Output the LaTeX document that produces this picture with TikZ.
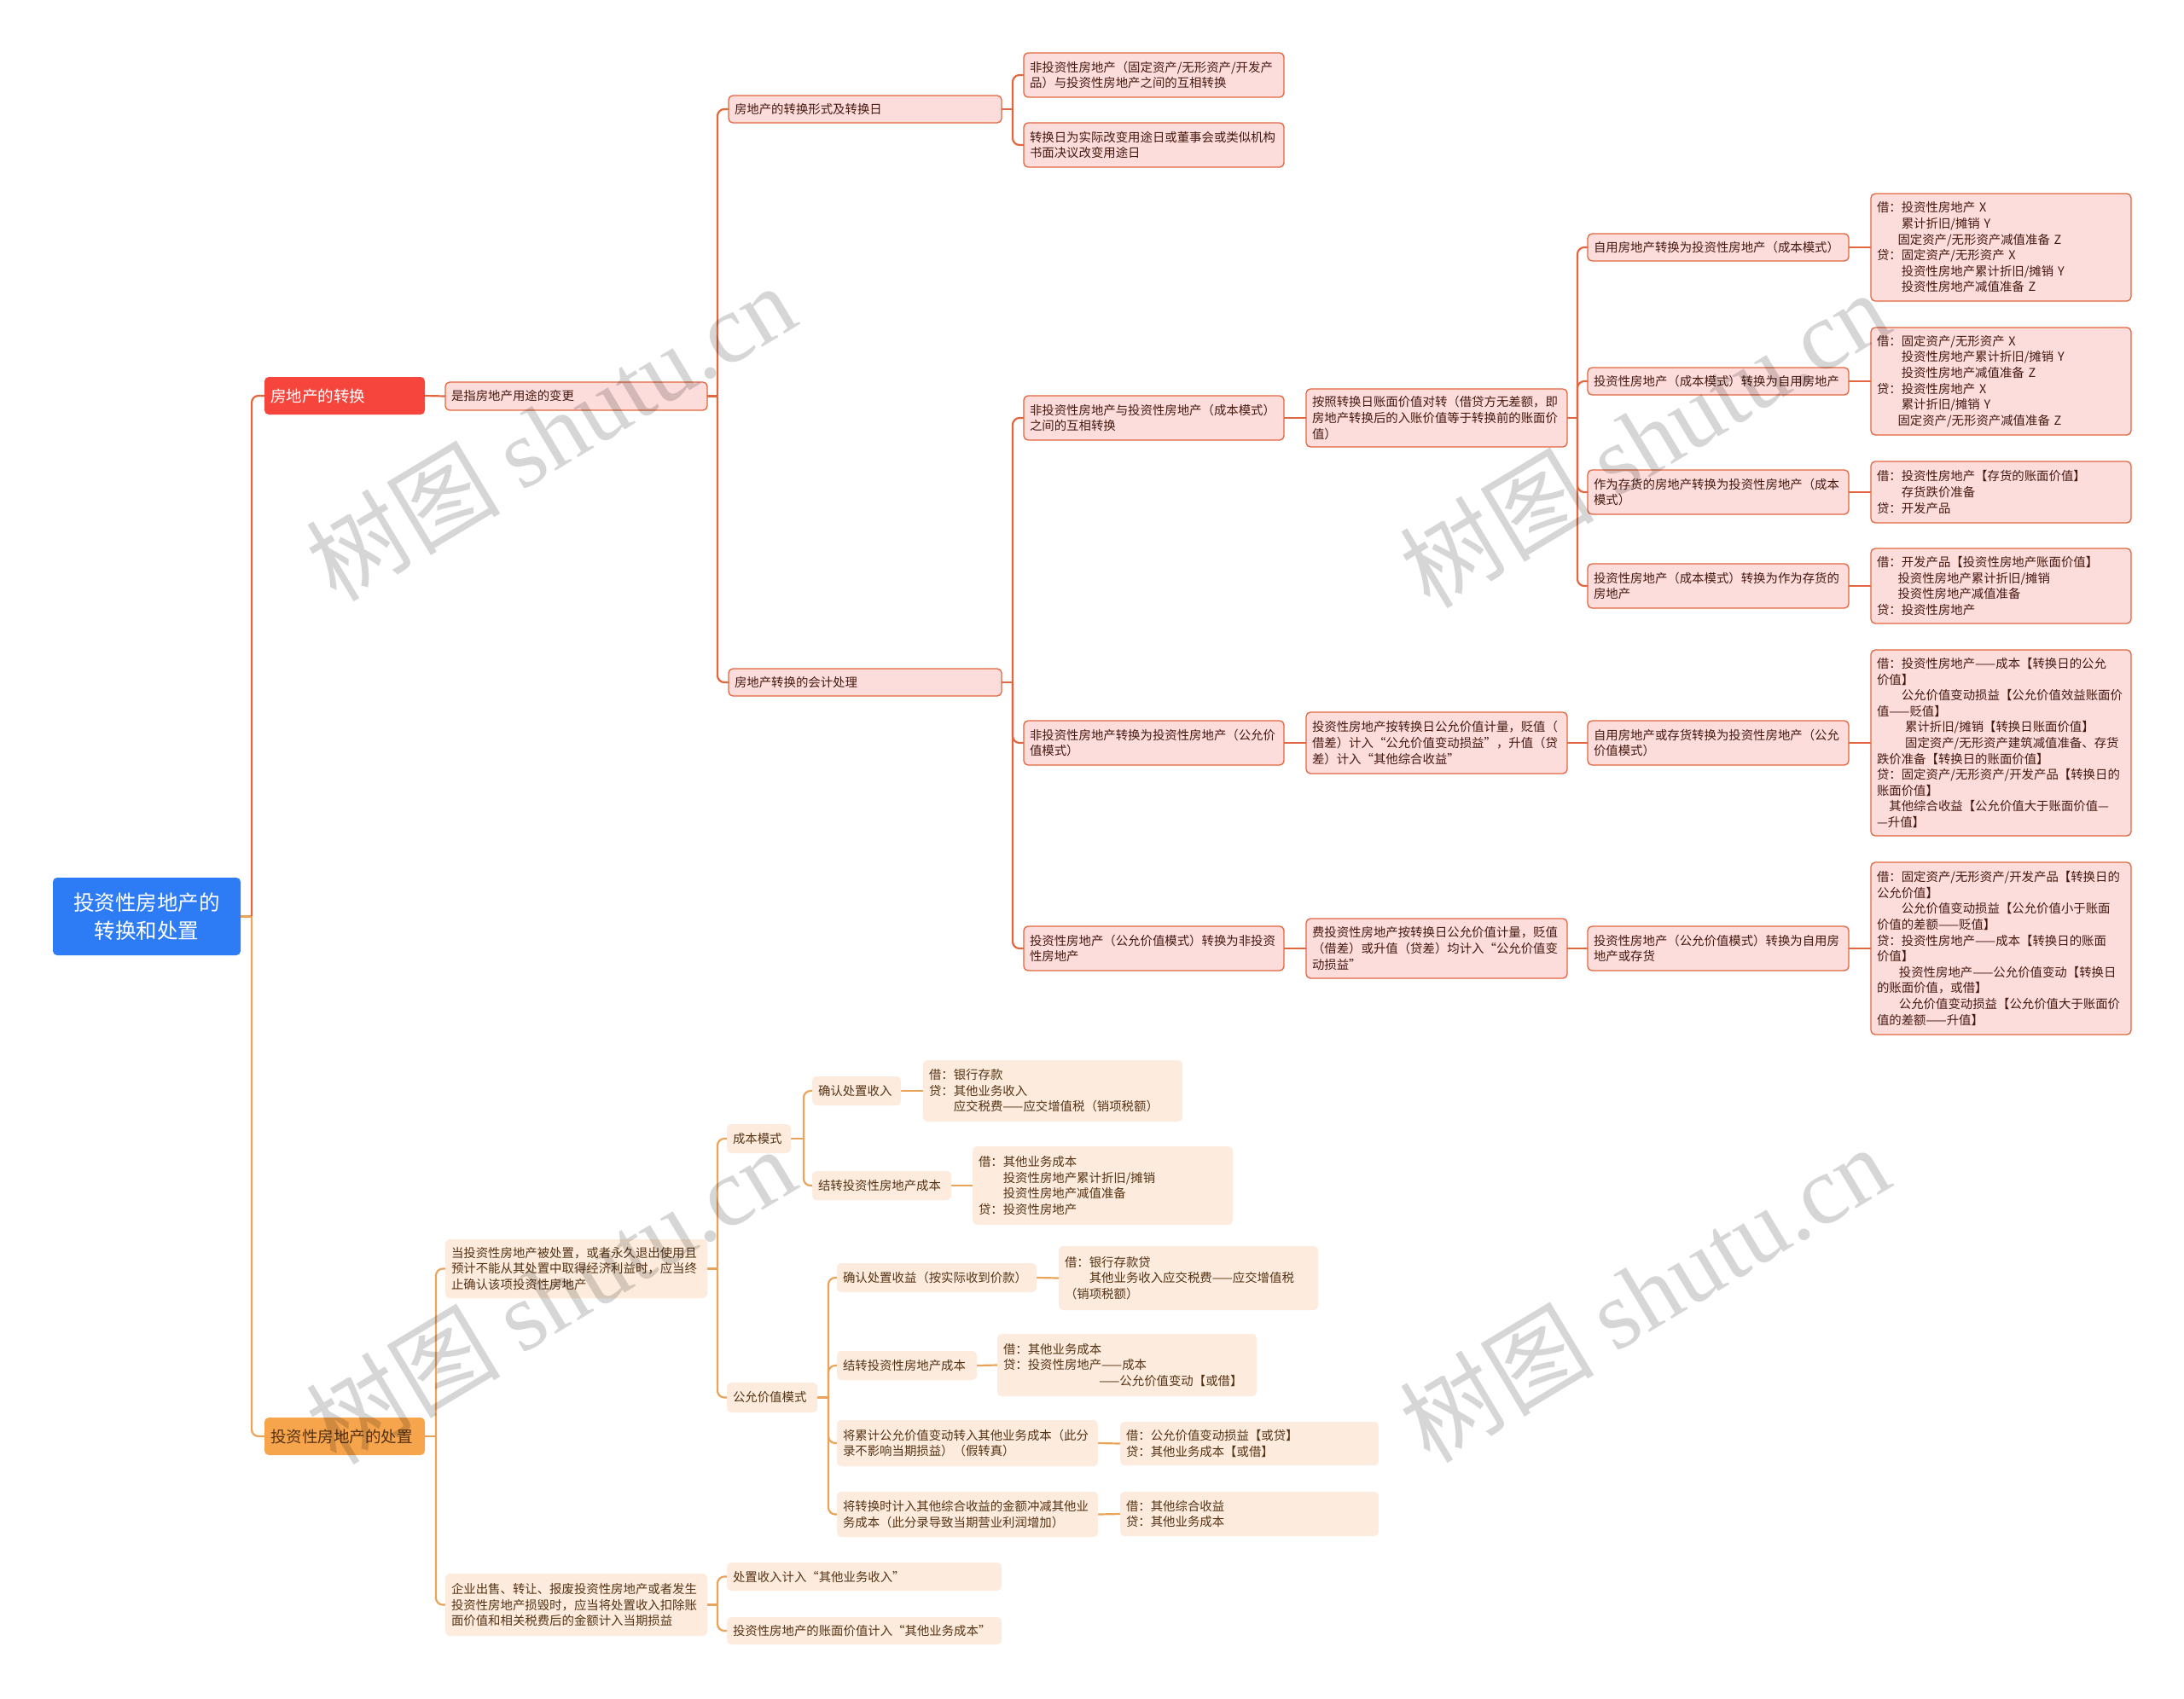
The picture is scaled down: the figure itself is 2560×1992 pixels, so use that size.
\documentclass[tikz,border=0pt]{standalone}
\usepackage{fontspec}
\setmainfont{Noto Sans CJK SC}
\newfontfamily\wmserif{Liberation Serif}
\usetikzlibrary{backgrounds}
\definecolor{rootblue}{RGB}{45,124,246}
\definecolor{redmain}{RGB}{245,69,61}
\definecolor{orgmain}{RGB}{247,165,77}
\definecolor{tline}{RGB}{226,102,63}
\definecolor{tfill}{RGB}{253,220,220}
\definecolor{ttext}{RGB}{70,25,15}
\definecolor{bline}{RGB}{234,164,90}
\definecolor{bfill}{RGB}{253,236,221}
\definecolor{btext}{RGB}{85,50,20}
\begin{document}
\begin{tikzpicture}[x=1pt,y=-1pt,
  base/.style={anchor=north west, rounded corners=5pt, inner xsep=7pt, inner ysep=0pt, outer sep=0pt, align=left, font=\fontsize{14.4}{18.6}\selectfont},
  tb/.style={base, draw=tline, line width=1.3pt, fill=tfill, text=ttext},
  bb/.style={base, fill=bfill, text=btext},
  sz/.style 2 args={text width=#1pt, minimum height=#2pt},
  tl/.style={draw=tline, line width=2.2pt, rounded corners=8pt},
  bl/.style={draw=bline, line width=2.2pt, rounded corners=8pt},
  lvl1/.style={anchor=north west, rounded corners=5pt, inner xsep=7pt, inner ysep=0pt, outer sep=0pt, align=left, text width=174pt, minimum height=44pt, font=\fontsize{18.5}{22}\selectfont},
  wm/.style={text=black, opacity=0.16, rotate=31, font=\fontsize{114}{114}\selectfont}
]
\useasboundingbox (0,0) rectangle (2560,1992);

% root and level 1
\node[anchor=north west, rounded corners=5pt, fill=rootblue, text=white, minimum width=220pt, minimum height=91pt, inner sep=0pt, outer sep=0pt, align=center, font=\fontsize{24.5}{32.5}\selectfont] (root) at (62,1029) {投资性房地产的\\转换和处置};
\node[lvl1, fill=redmain, text=white] (t1) at (310,442) {房地产的转换};
\node[lvl1, fill=orgmain, text=btext] (b1) at (310,1662) {投资性房地产的处置};

% top branch
\node[tb, sz={293}{33}] (t2) at (522,448) {是指房地产用途的变更};
\node[tb, sz={306}{32}] (t3a) at (854,112) {房地产的转换形式及转换日};
\node[tb, sz={306}{32}] (t3b) at (854,784) {房地产转换的会计处理};
\node[tb, sz={291}{52}] (t4a) at (1200,62) {非投资性房地产（固定资产/无形资产/开发产\\品）与投资性房地产之间的互相转换};
\node[tb, sz={291}{52}] (t4b) at (1200,144) {转换日为实际改变用途日或董事会或类似机构\\书面决议改变用途日};
\node[tb, sz={291}{52}] (A) at (1200,464) {非投资性房地产与投资性房地产（成本模式）\\之间的互相转换};
\node[tb, sz={291}{52}] (B) at (1200,845) {非投资性房地产转换为投资性房地产（公允价\\值模式）};
\node[tb, sz={291}{52}] (C) at (1200,1086) {投资性房地产（公允价值模式）转换为非投资\\性房地产};
\node[tb, sz={292}{68}] (A2) at (1531,456) {按照转换日账面价值对转（借贷方无差额，即\\房地产转换后的入账价值等于转换前的账面价\\值）};
\node[tb, sz={292}{72}] (B2) at (1531,835) {投资性房地产按转换日公允价值计量，贬值（\\借差）计入“公允价值变动损益”，升值（贷\\差）计入“其他综合收益”};
\node[tb, sz={292}{70}] (C2) at (1531,1077) {费投资性房地产按转换日公允价值计量，贬值\\（借差）或升值（贷差）均计入“公允价值变\\动损益”};
\node[tb, sz={292}{32}] (A3a) at (1861,274) {自用房地产转换为投资性房地产（成本模式）};
\node[tb, sz={292}{32}] (A3b) at (1861,431) {投资性房地产（成本模式）转换为自用房地产};
\node[tb, sz={292}{52}] (A3c) at (1861,551) {作为存货的房地产转换为投资性房地产（成本\\模式）};
\node[tb, sz={292}{52}] (A3d) at (1861,661) {投资性房地产（成本模式）转换为作为存货的\\房地产};
\node[tb, sz={292}{52}] (B3) at (1861,845) {自用房地产或存货转换为投资性房地产（公允\\价值模式）};
\node[tb, sz={292}{52}] (C3) at (1861,1086) {投资性房地产（公允价值模式）转换为自用房\\地产或存货};
\node[tb, sz={291}{126}] (A4a) at (2193,227) {借：投资性房地产 X\\\hspace*{2em}累计折旧/摊销 Y\\\hspace*{1.7em}固定资产/无形资产减值准备 Z\\贷：固定资产/无形资产 X\\\hspace*{2em}投资性房地产累计折旧/摊销 Y\\\hspace*{2em}投资性房地产减值准备 Z};
\node[tb, sz={291}{126}] (A4b) at (2193,384) {借：固定资产/无形资产 X\\\hspace*{2em}投资性房地产累计折旧/摊销 Y\\\hspace*{2em}投资性房地产减值准备 Z\\贷：投资性房地产 X\\\hspace*{2em}累计折旧/摊销 Y\\\hspace*{1.7em}固定资产/无形资产减值准备 Z};
\node[tb, sz={291}{72}] (A4c) at (2193,541) {借：投资性房地产【存货的账面价值】\\\hspace*{2em}存货跌价准备\\贷：开发产品};
\node[tb, sz={291}{88}] (A4d) at (2193,643) {借：开发产品【投资性房地产账面价值】\\\hspace*{1.7em}投资性房地产累计折旧/摊销\\\hspace*{1.7em}投资性房地产减值准备\\贷：投资性房地产};
\node[tb, sz={291}{218}] (B4) at (2193,762) {借：投资性房地产——成本【转换日的公允\\价值】\\\hspace*{2em}公允价值变动损益【公允价值效益账面价\\值——贬值】\\\hspace*{2.3em}累计折旧/摊销【转换日账面价值】\\\hspace*{2.3em}固定资产/无形资产建筑减值准备、存货\\跌价准备【转换日的账面价值】\\贷：固定资产/无形资产/开发产品【转换日的\\账面价值】\\\hspace*{1em}其他综合收益【公允价值大于账面价值—\\—升值】};
\node[tb, sz={291}{202}] (C4) at (2193,1011) {借：固定资产/无形资产/开发产品【转换日的\\公允价值】\\\hspace*{2em}公允价值变动损益【公允价值小于账面\\价值的差额——贬值】\\贷：投资性房地产——成本【转换日的账面\\价值】\\\hspace*{1.8em}投资性房地产——公允价值变动【转换日\\的账面价值，或借】\\\hspace*{1.8em}公允价值变动损益【公允价值大于账面价\\值的差额——升值】};

% bottom branch
\node[bb, sz={293}{69}] (D) at (522,1453) {当投资性房地产被处置，或者永久退出使用且\\预计不能从其处置中取得经济利益时，应当终\\止确认该项投资性房地产};
\node[bb, sz={293}{73}] (E) at (522,1845) {企业出售、转让、报废投资性房地产或者发生\\投资性房地产损毁时，应当将处置收入扣除账\\面价值和相关税费后的金额计入当期损益};
\node[bb, sz={61}{34}] (cm) at (852,1318) {成本模式};
\node[bb, sz={92}{35}] (gy) at (852,1621) {公允价值模式};
\node[bb, sz={90}{34}] (cm1) at (952,1262) {确认处置收入};
\node[bb, sz={149}{34}] (cm2) at (952,1373) {结转投资性房地产成本};
\node[bb, sz={290}{72}] (cm1a) at (1082,1243) {借：银行存款\\贷：其他业务收入\\\hspace*{2em}应交税费——应交增值税（销项税额）};
\node[bb, sz={291}{92}] (cm2a) at (1140,1344) {借：其他业务成本\\\hspace*{2em}投资性房地产累计折旧/摊销\\\hspace*{2em}投资性房地产减值准备\\贷：投资性房地产};
\node[bb, sz={220}{34}] (gy1) at (981,1481) {确认处置收益（按实际收到价款）};
\node[bb, sz={150}{34}] (gy2) at (981,1584) {结转投资性房地产成本};
\node[bb, sz={292}{54}] (gy3) at (981,1665) {将累计公允价值变动转入其他业务成本（此分\\录不影响当期损益）（假转真）};
\node[bb, sz={292}{53}] (gy4) at (981,1749) {将转换时计入其他综合收益的金额冲减其他业\\务成本（此分录导致当期营业利润增加）};
\node[bb, sz={290}{75}] (gy1a) at (1241,1461) {借：银行存款贷\\\hspace*{2em}其他业务收入应交税费——应交增值税\\（销项税额）};
\node[bb, sz={290}{73}] (gy2a) at (1169,1564) {借：其他业务成本\\贷：投资性房地产——成本\\\hspace*{7.8em}——公允价值变动【或借】};
\node[bb, sz={289}{51}] (gy3a) at (1313,1667) {借：公允价值变动损益【或贷】\\贷：其他业务成本【或借】};
\node[bb, sz={289}{52}] (gy4a) at (1313,1749) {借：其他综合收益\\贷：其他业务成本};
\node[bb, sz={308}{33}] (E1) at (852,1832) {处置收入计入“其他业务收入”};
\node[bb, sz={308}{32}] (E2) at (852,1896) {投资性房地产的账面价值计入“其他业务成本”};

\begin{pgfonlayer}{background}
\fill[white] (0,0) rectangle (2560,1992);
% root links
\draw[bl] (root.east) -- ++(13,0) coordinate (rJ);
\draw[tl] (rJ) |- (t1.west);
\draw[bl] (rJ) |- (b1.west);
% top links
\draw[tl] (t1.east) -- (t2.west);
\draw[tl] (t2.east) -- ++(12,0) coordinate (t2J);
\draw[tl] (t2J) |- (t3a.west);
\draw[tl] (t2J) |- (t3b.west);
\draw[tl] (t3a.east) -- ++(13,0) coordinate (t3aJ);
\draw[tl] (t3aJ) |- (t4a.west);
\draw[tl] (t3aJ) |- (t4b.west);
\draw[tl] (t3b.east) -- ++(13,0) coordinate (t3bJ);
\draw[tl] (t3bJ) |- (A.west);
\draw[tl] (t3bJ) |- (B.west);
\draw[tl] (t3bJ) |- (C.west);
\draw[tl] (A.east) -- (A2.west);
\draw[tl] (B.east) -- (B2.west);
\draw[tl] (C.east) -- (C2.west);
\draw[tl] (A2.east) -- ++(12,0) coordinate (A2J);
\draw[tl] (A2J) |- (A3a.west);
\draw[tl] (A2J) |- (A3b.west);
\draw[tl] (A2J) |- (A3c.west);
\draw[tl] (A2J) |- (A3d.west);
\draw[tl] (B2.east) -- (B3.west);
\draw[tl] (C2.east) -- (C3.west);
\draw[tl] (A3a.east) -- (A4a.west);
\draw[tl] (A3b.east) -- (A4b.west);
\draw[tl] (A3c.east) -- (A4c.west);
\draw[tl] (A3d.east) -- (A4d.west);
\draw[tl] (B3.east) -- (B4.west);
\draw[tl] (C3.east) -- (C4.west);
% bottom links
\draw[bl] (b1.east) -- ++(13,0) coordinate (b1J);
\draw[bl] (b1J) |- (D.west);
\draw[bl] (b1J) |- (E.west);
\draw[bl] (D.east) -- ++(12,0) coordinate (DJ);
\draw[bl] (DJ) |- (cm.west);
\draw[bl] (DJ) |- (gy.west);
\draw[bl] (cm.east) -- ++(15,0) coordinate (cmJ);
\draw[bl] (cmJ) |- (cm1.west);
\draw[bl] (cmJ) |- (cm2.west);
\draw[bl] (cm1.east) -- (cm1a.west);
\draw[bl] (cm2.east) -- (cm2a.west);
\draw[bl] (gy.east) -- ++(13,0) coordinate (gyJ);
\draw[bl] (gyJ) |- (gy1.west);
\draw[bl] (gyJ) |- (gy2.west);
\draw[bl] (gyJ) |- (gy3.west);
\draw[bl] (gyJ) |- (gy4.west);
\draw[bl] (gy1.east) -- (gy1a.west);
\draw[bl] (gy2.east) -- (gy2a.west);
\draw[bl] (gy3.east) -- (gy3a.west);
\draw[bl] (gy4.east) -- (gy4a.west);
\draw[bl] (E.east) -- ++(12,0) coordinate (EJ);
\draw[bl] (EJ) |- (E1.west);
\draw[bl] (EJ) |- (E2.west);
\end{pgfonlayer}

% watermarks
\node[wm] (wm1) at (645,506) {树图 {\wmserif shutu.cn}};
\node[wm] (wm2) at (1927,514) {树图 {\wmserif shutu.cn}};
\node[wm] (wm3) at (645,1518) {树图 {\wmserif shutu.cn}};
\node[wm] (wm4) at (1927,1516) {树图 {\wmserif shutu.cn}};
\end{tikzpicture}
\end{document}
